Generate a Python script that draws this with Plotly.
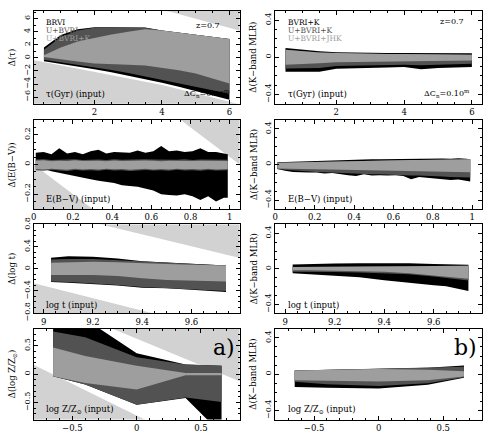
import plotly.graph_objects as go

# ---------------- data ----------------
# Panel a1: tau
tau_x = [0.5, 1.0, 1.5, 2.0, 2.5, 3.0, 3.5, 4.0, 4.5, 5.0, 5.5, 6.0]
tau_brvi_hi = [1.6, 3.5, 4.4, 4.7, 4.7, 4.7, 4.65, 4.2, 3.9, 3.6, 3.25, 2.9]
tau_brvi_lo = [-0.5, -0.85, -1.3, -1.75, -2.2, -2.7, -3.25, -3.8, -4.4, -5.0, -5.7, -6.4]
tau_ubvri_hi = [1.25, 3.2, 4.2, 4.6, 4.65, 4.65, 4.6, 4.2, 3.9, 3.6, 3.25, 2.9]
tau_ubvri_lo = [-0.3, -0.65, -1.05, -1.45, -1.85, -2.3, -2.8, -3.35, -3.9, -4.4, -4.95, -5.5]
tau_ubvrik_hi = [0.4, 1.6, 2.5, 3.1, 3.6, 4.0, 4.4, 4.2, 3.9, 3.6, 3.25, 2.9]
tau_ubvrik_lo = [0.15, -0.25, -0.55, -0.85, -0.95, -1.05, -1.15, -1.5, -1.9, -2.4, -3.1, -3.9]
tau_uplim_x = [3.5, 6.5]
tau_uplim_y = [8.1, 3.9]
tau_lolim_x = [0.0, 4.0, 6.5]
tau_lolim_y = [-0.15, -4.15, -7.35]

# Panel b1: K-band MLR vs tau
tmlr_brvik_hi = [0.10, 0.08, 0.065, 0.055, 0.05, 0.048, 0.046, 0.045, 0.045, 0.044, 0.043, 0.042]
tmlr_brvik_lo = [-0.155, -0.155, -0.155, -0.125, -0.12, -0.115, -0.11, -0.105, -0.13, -0.115, -0.11, -0.105]
tmlr_ubvrik_hi = [0.08, 0.065, 0.05, 0.045, 0.04, 0.038, 0.036, 0.035, 0.034, 0.033, 0.03, 0.028]
tmlr_ubvrik_lo = [-0.12, -0.12, -0.115, -0.095, -0.09, -0.085, -0.082, -0.08, -0.085, -0.08, -0.075, -0.07]
tmlr_jhk_hi = [0.08, 0.065, 0.05, 0.045, 0.04, 0.038, 0.036, 0.035, 0.034, 0.033, 0.03, 0.028]
tmlr_jhk_lo = [-0.08, -0.075, -0.065, -0.055, -0.05, -0.048, -0.046, -0.045, -0.043, -0.04, -0.038, -0.035]

# Panel a2: E(B-V)
ebv_x = [0.01, 0.05, 0.09, 0.13, 0.17, 0.21, 0.25, 0.29, 0.33, 0.37, 0.41, 0.45, 0.49,
         0.53, 0.57, 0.61, 0.65, 0.69, 0.73, 0.77, 0.81, 0.85, 0.89, 0.93, 0.97, 0.99]
ebv_brvi_hi = [0.08, 0.085, 0.07, 0.11, 0.075, 0.085, 0.07, 0.09, 0.10, 0.075, 0.085, 0.08, 0.08,
               0.095, 0.08, 0.09, 0.125, 0.09, 0.095, 0.085, 0.09, 0.11, 0.085, 0.085, 0.075, 0.07]
ebv_brvi_lo = [-0.017, -0.03, -0.045, -0.06, -0.07, -0.08, -0.09, -0.1, -0.11, -0.12, -0.125, -0.14, -0.145,
               -0.15, -0.16, -0.175, -0.2, -0.205, -0.21, -0.2, -0.215, -0.24, -0.215, -0.25, -0.225, -0.225]
ebv_ubvri_hi = [0.033, 0.035, 0.031, 0.034, 0.032, 0.036, 0.031, 0.034, 0.033, 0.031, 0.035, 0.032, 0.034,
                0.032, 0.035, 0.033, 0.031, 0.034, 0.032, 0.035, 0.031, 0.033, 0.034, 0.031, 0.033, 0.032]
ebv_ubvri_lo = [-0.038, -0.042, -0.036, -0.04, -0.043, -0.037, -0.041, -0.038, -0.042, -0.036, -0.04, -0.038, -0.043,
                -0.039, -0.037, -0.041, -0.038, -0.042, -0.036, -0.04, -0.038, -0.042, -0.037, -0.041, -0.039, -0.038]
ebv_ubvrik_hi = [0.025, 0.028, 0.022, 0.026, 0.024, 0.028, 0.023, 0.026, 0.025, 0.022, 0.027, 0.024, 0.026,
                 0.023, 0.027, 0.025, 0.022, 0.026, 0.024, 0.027, 0.023, 0.025, 0.026, 0.022, 0.025, 0.024]
ebv_ubvrik_lo = [-0.03, -0.034, -0.028, -0.032, -0.035, -0.029, -0.033, -0.03, -0.034, -0.028, -0.032, -0.03, -0.035,
                 -0.031, -0.029, -0.033, -0.03, -0.034, -0.028, -0.032, -0.03, -0.034, -0.029, -0.033, -0.031, -0.03]
ebv_uplim_x = [0.7, 1.1]
ebv_uplim_y = [0.35, -0.05]
ebv_lolim_x = [-0.05, 0.35]
ebv_lolim_y = [0.05, -0.35]

# Panel b2: K-band MLR vs E(B-V)
emlr_brvik_hi = [0.025, 0.028, 0.03, 0.035, 0.04, 0.045, 0.048, 0.05, 0.05, 0.052, 0.055, 0.058, 0.06,
                 0.058, 0.06, 0.058, 0.06, 0.062, 0.065, 0.062, 0.065, 0.068, 0.065, 0.07, 0.065, 0.06]
emlr_brvik_lo = [-0.05, -0.07, -0.085, -0.09, -0.09, -0.09, -0.1, -0.095, -0.11, -0.12, -0.13, -0.11, -0.125,
                 -0.12, -0.125, -0.12, -0.13, -0.165, -0.14, -0.15, -0.155, -0.165, -0.175, -0.17, -0.185, -0.19]
emlr_ubvrik_hi = [0.02, 0.022, 0.025, 0.028, 0.032, 0.034, 0.036, 0.038, 0.04, 0.042, 0.044, 0.045, 0.046,
                  0.047, 0.048, 0.049, 0.05, 0.051, 0.052, 0.053, 0.054, 0.055, 0.056, 0.057, 0.058, 0.058]
emlr_ubvrik_lo = [-0.05, -0.06, -0.07, -0.075, -0.08, -0.085, -0.088, -0.09, -0.095, -0.1, -0.1, -0.105, -0.11,
                  -0.11, -0.115, -0.115, -0.12, -0.125, -0.125, -0.13, -0.13, -0.135, -0.14, -0.14, -0.145, -0.145]
emlr_jhk_hi = [0.02, 0.022, 0.025, 0.028, 0.032, 0.034, 0.036, 0.038, 0.04, 0.042, 0.044, 0.045, 0.046,
               0.047, 0.048, 0.049, 0.05, 0.051, 0.052, 0.053, 0.054, 0.055, 0.056, 0.057, 0.058, 0.058]
emlr_jhk_lo = [-0.045, -0.047, -0.05, -0.05, -0.052, -0.053, -0.055, -0.056, -0.058, -0.06, -0.06, -0.062, -0.063,
               -0.065, -0.066, -0.068, -0.07, -0.072, -0.074, -0.076, -0.078, -0.08, -0.082, -0.084, -0.085, -0.086]

# Panel a3: log t
logt_x = [9.03, 9.1, 9.2, 9.3, 9.4, 9.5, 9.6, 9.65, 9.74]
logt_brvi_hi = [0.2, 0.23, 0.22, 0.19, 0.14, 0.12, 0.09, 0.08, 0.06]
logt_brvi_lo = [-0.24, -0.25, -0.27, -0.30, -0.34, -0.35, -0.38, -0.4, -0.42]
logt_ubvri_hi = [0.17, 0.18, 0.18, 0.16, 0.14, 0.12, 0.09, 0.08, 0.06]
logt_ubvri_lo = [-0.23, -0.24, -0.26, -0.29, -0.33, -0.34, -0.37, -0.38, -0.4]
logt_ubvrik_hi = [0.11, 0.12, 0.13, 0.12, 0.1, 0.09, 0.075, 0.07, 0.06]
logt_ubvrik_lo = [-0.11, -0.11, -0.11, -0.13, -0.17, -0.2, -0.21, -0.22, -0.23]
logt_uplim_x = [9.2, 9.85]
logt_uplim_y = [0.84, 0.14]
logt_lolim_x = [8.9, 9.5]
logt_lolim_y = [-0.19, -0.87]

# Panel b3: K-band MLR vs log t
lmlr_brvik_hi = [0.048, 0.055, 0.06, 0.064, 0.064, 0.062, 0.055, 0.052, 0.045]
lmlr_brvik_lo = [-0.048, -0.06, -0.075, -0.095, -0.128, -0.16, -0.185, -0.195, -0.25]
lmlr_ubvrik_hi = [0.022, 0.022, 0.022, 0.024, 0.026, 0.03, 0.033, 0.034, 0.035]
lmlr_ubvrik_lo = [-0.032, -0.032, -0.035, -0.04, -0.048, -0.06, -0.085, -0.1, -0.13]
lmlr_jhk_hi = [0.022, 0.022, 0.022, 0.024, 0.026, 0.03, 0.033, 0.034, 0.035]
lmlr_jhk_lo = [-0.016, -0.016, -0.018, -0.024, -0.032, -0.048, -0.07, -0.085, -0.11]

# Panel a4: log Z/Zsun
logz_x = [-0.65, -0.4, 0.0, 0.38, 0.66]
logz_brvi_hi = [1.0, 0.97, 0.37, 0.17, 0.15]
logz_brvi_lo = [-0.035, -0.18, -0.54, -0.42, -1.05]
logz_ubvri_hi = [0.75, 0.65, 0.3, 0.17, 0.15]
logz_ubvri_lo = [-0.035, -0.18, -0.54, -0.41, -0.49]
logz_ubvrik_hi = [0.47, 0.32, 0.15, 0.02, 0.02]
logz_ubvrik_lo = [-0.035, -0.155, -0.27, -0.02, -0.02]
logz_uplim_x = [-0.25, 0.85]
logz_uplim_y = [0.86, -0.17]
logz_lolim_x = [-0.85, 0.1]
logz_lolim_y = [0.22, -0.84]

# Panel b4: K-band MLR vs log Z
zmlr_brvik_hi = [0.04, 0.048, 0.056, 0.07, 0.095]
zmlr_brvik_lo = [-0.14, -0.15, -0.157, -0.115, -0.04]
zmlr_ubvrik_hi = [0.04, 0.048, 0.056, 0.068, 0.082]
zmlr_ubvrik_lo = [-0.082, -0.11, -0.13, -0.1, -0.033]
zmlr_jhk_hi = [0.04, 0.048, 0.056, 0.05, 0.033]
zmlr_jhk_lo = [-0.066, -0.075, -0.08, -0.066, -0.026]

# ---------------- styling ----------------
W, H = 488, 445
FONT = "DejaVu Serif"
C_BLACK, C_DARK, C_MED, C_LIGHT = "#000000", "#525252", "#9e9e9e", "#d2d2d2"

col_px = [(31, 238), (274, 482)]
row_px = [(4, 100), (117, 209), (225, 317), (333, 427)]

def px2x(px):
    return px / W

def px2y(py):
    return 1 - py / H

fig = go.Figure()

def axnames(r, c):
    n = r * 2 + c + 1
    s = "" if n == 1 else str(n)
    return "x" + s, "y" + s, "xaxis" + s, "yaxis" + s

def band(r, c, x, lo, hi, color):
    xa, ya, _, _ = axnames(r, c)
    fig.add_trace(go.Scatter(
        x=list(x) + list(x[::-1]), y=list(hi) + list(lo[::-1]),
        fill="toself", fillcolor=color, line=dict(width=0), mode="lines",
        hoverinfo="skip", showlegend=False, xaxis=xa, yaxis=ya))

def limit(r, c, lx, ly, side):
    xa, ya, _, _ = axnames(r, c)
    big = 100.0 * side
    fig.add_trace(go.Scatter(
        x=list(lx) + [lx[-1], lx[0]], y=list(ly) + [ly[-1] + big, ly[0] + big],
        fill="toself", fillcolor=C_LIGHT, line=dict(width=0), mode="lines",
        hoverinfo="skip", showlegend=False, xaxis=xa, yaxis=ya))

panels = [
    (0, 0, tau_x, [(tau_brvi_lo, tau_brvi_hi), (tau_ubvri_lo, tau_ubvri_hi), (tau_ubvrik_lo, tau_ubvrik_hi)],
     [(tau_uplim_x, tau_uplim_y, 1), (tau_lolim_x, tau_lolim_y, -1)]),
    (0, 1, tau_x, [(tmlr_brvik_lo, tmlr_brvik_hi), (tmlr_ubvrik_lo, tmlr_ubvrik_hi), (tmlr_jhk_lo, tmlr_jhk_hi)], []),
    (1, 0, ebv_x, [(ebv_brvi_lo, ebv_brvi_hi), (ebv_ubvri_lo, ebv_ubvri_hi), (ebv_ubvrik_lo, ebv_ubvrik_hi)],
     [(ebv_uplim_x, ebv_uplim_y, 1), (ebv_lolim_x, ebv_lolim_y, -1)]),
    (1, 1, ebv_x, [(emlr_brvik_lo, emlr_brvik_hi), (emlr_ubvrik_lo, emlr_ubvrik_hi), (emlr_jhk_lo, emlr_jhk_hi)], []),
    (2, 0, logt_x, [(logt_brvi_lo, logt_brvi_hi), (logt_ubvri_lo, logt_ubvri_hi), (logt_ubvrik_lo, logt_ubvrik_hi)],
     [(logt_uplim_x, logt_uplim_y, 1), (logt_lolim_x, logt_lolim_y, -1)]),
    (2, 1, logt_x, [(lmlr_brvik_lo, lmlr_brvik_hi), (lmlr_ubvrik_lo, lmlr_ubvrik_hi), (lmlr_jhk_lo, lmlr_jhk_hi)], []),
    (3, 0, logz_x, [(logz_brvi_lo, logz_brvi_hi), (logz_ubvri_lo, logz_ubvri_hi), (logz_ubvrik_lo, logz_ubvrik_hi)],
     [(logz_uplim_x, logz_uplim_y, 1), (logz_lolim_x, logz_lolim_y, -1)]),
    (3, 1, logz_x, [(zmlr_brvik_lo, zmlr_brvik_hi), (zmlr_ubvrik_lo, zmlr_ubvrik_hi), (zmlr_jhk_lo, zmlr_jhk_hi)], []),
]

for r, c, x, bands, lims in panels:
    for lx, ly, side in lims:
        limit(r, c, lx, ly, side)
    for (lo, hi), col in zip(bands, [C_BLACK, C_DARK, C_MED]):
        band(r, c, x, lo, hi, col)

row_x = [([0.2, 6.3], 2, 0.5), ([0.0, 1.05], 0.2, 0.05), ([8.96, 9.795], 0.2, 0.05), ([-0.8, 0.8], 0.5, 0.1)]
left_y = [([-7.0, 7.2], 2, 1), ([-0.3, 0.3], 0.2, 0.05), ([-0.805, 0.805], 0.4, 0.1), ([-0.8, 0.8], 0.5, 0.1)]
right_y = ([-0.5, 0.5], 0.4, 0.1)

layout = dict(width=W, height=H, margin=dict(l=0, r=0, t=0, b=0),
              paper_bgcolor="white", plot_bgcolor="white",
              font=dict(family=FONT, color="black"))

for r in range(4):
    for c in range(2):
        xa, ya, xk, yk = axnames(r, c)
        xr, xd, xm = row_x[r]
        yr, yd, ym = left_y[r] if c == 0 else right_y
        common = dict(showgrid=False, zeroline=False, showline=True, linecolor="black", linewidth=1,
                      mirror="allticks", ticks="inside", ticklen=4, tickwidth=1, tickcolor="black")
        layout[xk] = dict(common, domain=[px2x(col_px[c][0]), px2x(col_px[c][1])], range=xr,
                          dtick=xd, tick0=0, anchor=ya, tickfont=dict(size=8.5, family=FONT),
                          minor=dict(ticks="inside", ticklen=2, dtick=xm, tickcolor="black", showgrid=False))
        layout[yk] = dict(common, domain=[px2y(row_px[r][1]), px2y(row_px[r][0])], range=yr,
                          dtick=yd, tick0=0, anchor=xa, tickangle=-90, tickfont=dict(size=8, family=FONT),
                          minor=dict(ticks="inside", ticklen=2, dtick=ym, tickcolor="black", showgrid=False))

fig.update_layout(**layout)

ann = []

def text(px, py, s, size=9, color="black", xanchor="left", angle=0):
    ann.append(dict(x=px2x(px), y=px2y(py), xref="paper", yref="paper", text=s, showarrow=False,
                    xanchor=xanchor, yanchor="middle", textangle=angle,
                    font=dict(family=FONT, size=size, color=color)))

ytitles_left = ["Δ(τ)", "Δ(E(B−V))", "Δ(log t)", "Δ(log Z/Z<sub>⊙</sub>)"]
for r in range(4):
    cy = (row_px[r][0] + row_px[r][1]) / 2
    text(9, cy, ytitles_left[r], size=8.5, xanchor="center", angle=-90)
    text(252, cy, "Δ(K−band MLR)", size=8.5, xanchor="center", angle=-90)

for i, (s, col) in enumerate([("BRVI", C_BLACK), ("U+BVRI", C_DARK), ("U+BVRI+K", C_MED)]):
    text(41, 16 + 8.3 * i, s, size=7.5, color=col)
for i, (s, col) in enumerate([("BVRI+K", C_BLACK), ("U+BVRI+K", C_DARK), ("U+BVRI+JHK", C_MED)]):
    text(285, 16 + 8.3 * i, s, size=7.5, color=col)

text(220, 19, "z=0.7", size=8, xanchor="right")
text(466, 15, "z=0.7", size=8, xanchor="right")
text(230, 90, "ΔC<sub>n</sub>=0.03<sup>m</sup>", size=8, xanchor="right")
text(472, 90, "ΔC<sub>n</sub>=0.10<sup>m</sup>", size=8, xanchor="right")

xlabels = ["τ(Gyr) (input)", "E(B−V) (input)", "log t (input)", "log Z/Z<sub>⊙</sub> (input)"]
xlab_y = [90, 199, 308, 417]
for r in range(4):
    text(41, xlab_y[r], xlabels[r], size=8.5)
    text(285, xlab_y[r], xlabels[r], size=8.5)

text(222, 352, "a)", size=22, xanchor="center")
text(465, 352, "b)", size=22, xanchor="center")

fig.update_layout(annotations=ann)
fig.write_html("out.html", config={"displayModeBar": False, "staticPlot": True},
               post_script="document.body.style.margin='0';")
